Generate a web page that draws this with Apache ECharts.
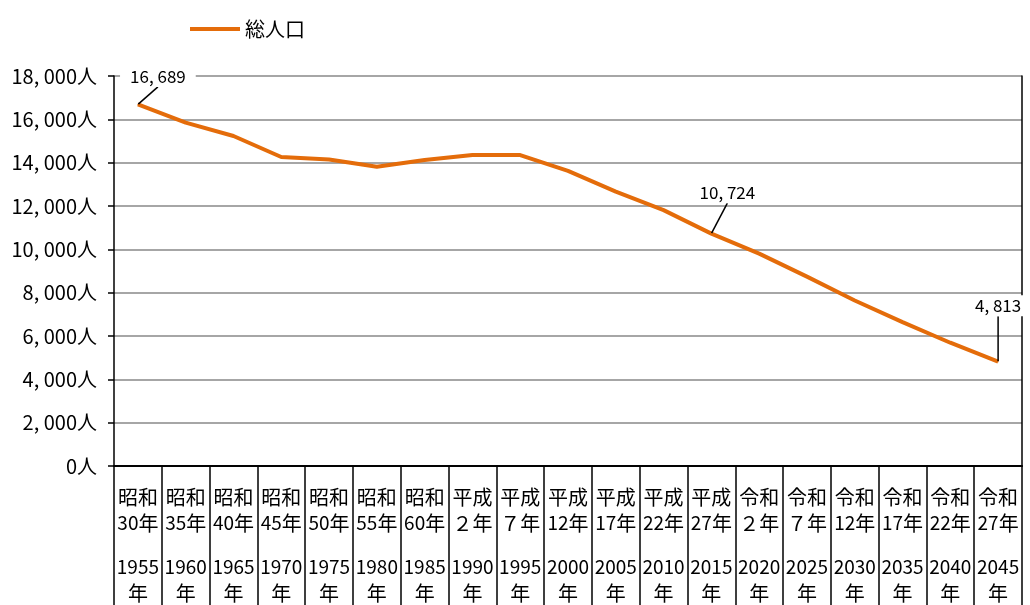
<!DOCTYPE html>
<html>
<head>
<meta charset="utf-8">
<script src="https://cdn.jsdelivr.net/npm/echarts@6/dist/echarts.min.js"></script>
<style>
  html, body { margin: 0; padding: 0; background: #fff; }
  #chart { width: 1030px; height: 605px; }
</style>
</head>
<body>
<div id="chart"></div>
<script>
// era-name row and western-year row of the category axis
const eraLabels = ['昭和\n30年', '昭和\n35年', '昭和\n40年', '昭和\n45年', '昭和\n50年', '昭和\n55年', '昭和\n60年',
  '平成\n２年', '平成\n７年', '平成\n12年', '平成\n17年', '平成\n22年', '平成\n27年',
  '令和\n２年', '令和\n７年', '令和\n12年', '令和\n17年', '令和\n22年', '令和\n27年'];
const yearLabels = ['1955', '1960', '1965', '1970', '1975', '1980', '1985', '1990', '1995', '2000',
  '2005', '2010', '2015', '2020', '2025', '2030', '2035', '2040', '2045'];
const population = [16689, 15850, 15230, 14260, 14150, 13810, 14120, 14350, 14350, 13620,
  12660, 11810, 10724, 9800, 8740, 7640, 6640, 5690, 4813];
const labelledIdx = [0, 12, 18];
const labelOffsets = { 0: [20, -12], 12: [16, -25], 18: [0, -40] };

const FONT = '"Noto Sans CJK JP", sans-serif';
const BLACK = { color: '#000', width: 1.5 };
const fmt = v => v.toLocaleString('en-US').replace(/,/g, ', ');
const cats = yearLabels.map((y, i) => i);

// half-width digits a bit smaller so "1955" fits the band like the original
const richLine = s => s.replace(/([0-9]+)|([^0-9]+)/g, (m, d, o) => d ? `{d|${d}}` : `{a|${o}}`);

const chart = echarts.init(document.getElementById('chart'));
chart.setOption({
  animation: false,
  textStyle: { fontFamily: FONT, color: '#000' },
  legend: {
    data: ['総人口'],
    left: 185, top: 14,
    icon: 'rect', itemWidth: 50, itemHeight: 4,
    textStyle: { fontSize: 20, color: '#000', fontFamily: FONT }
  },
  grid: { left: 114, right: 8, top: 76, bottom: 139 },
  xAxis: [{
    type: 'category',
    position: 'bottom',
    data: cats,
    axisLine: { lineStyle: BLACK },
    axisTick: { inside: true, length: 5, lineStyle: BLACK },
    axisLabel: {
      interval: 0, margin: 18, color: '#000', fontFamily: FONT,
      formatter: (v, i) => {
        const era = eraLabels[i].split('\n');
        return [richLine(era[0]), richLine(era[1]), '{g| }', richLine(yearLabels[i]), '{a|年}'].join('\n');
      },
      rich: {
        a: { fontSize: 20, lineHeight: 26, fontFamily: FONT, color: '#000' },
        d: { fontSize: 19, lineHeight: 26, fontFamily: FONT, color: '#000' },
        g: { fontSize: 10, lineHeight: 18 }
      }
    }
  }, {
    // top border of the plot
    type: 'category',
    position: 'top',
    data: cats,
    axisLine: { show: true, lineStyle: BLACK },
    axisTick: { show: false },
    axisLabel: { show: false }
  }, {
    // separators of the label table below the axis
    type: 'category',
    position: 'bottom',
    data: cats,
    axisLine: { show: true, lineStyle: BLACK },
    axisTick: { show: true, length: 140, lineStyle: BLACK },
    axisLabel: { show: false }
  }],
  yAxis: [{
    type: 'value',
    min: 0, max: 18000, interval: 2000,
    axisLine: { show: true, lineStyle: BLACK },
    axisTick: { show: true, length: 6, lineStyle: BLACK },
    axisLabel: {
      margin: 17, fontSize: 20, color: '#000', fontFamily: FONT,
      formatter: v => fmt(v) + '人'
    },
    splitLine: { lineStyle: { color: '#a6a6a6', width: 2 } }
  }, {
    // right border of the plot
    type: 'value',
    position: 'right',
    min: 0, max: 18000, interval: 2000,
    axisLine: { show: true, lineStyle: BLACK },
    axisTick: { show: false },
    axisLabel: { show: false },
    splitLine: { show: false }
  }],
  series: [{
    name: '総人口',
    type: 'line',
    data: population.map((v, i) => labelledIdx.includes(i)
      ? { value: v, label: { show: true } }
      : v),
    color: '#E46C0A',
    lineStyle: { width: 4, color: '#E46C0A' },
    showSymbol: true,
    symbol: 'circle',
    symbolSize: 1,
    itemStyle: { color: '#E46C0A' },
    label: {
      show: false,
      position: 'top',
      fontSize: 17,
      color: '#000',
      fontFamily: FONT,
      backgroundColor: '#fff',
      padding: [2, 10],
      formatter: p => fmt(p.value)
    },
    labelLine: { show: true, lineStyle: BLACK },
    labelLayout: p => {
      const o = labelOffsets[p.dataIndex];
      return o ? { dx: o[0], dy: o[1] } : {};
    },
    z: 3
  }]
});
</script>
</body>
</html>
